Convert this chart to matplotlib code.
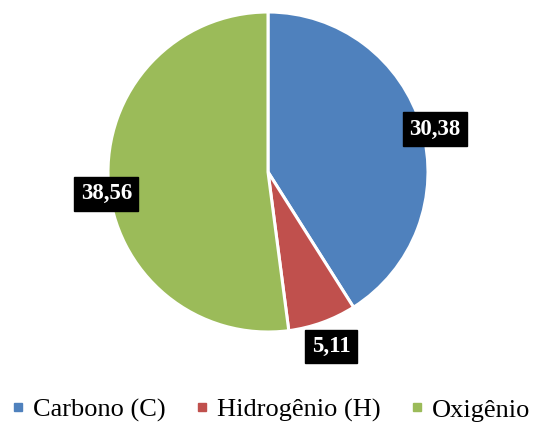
import matplotlib
matplotlib.use("Agg")
import matplotlib.pyplot as plt
from matplotlib.lines import Line2D
import numpy as np

labels = ["Carbono (C)", "Hidrogênio (H)", "Oxigênio"]
values = [30.38, 5.11, 38.56]
value_text = ["30,38", "5,11", "38,56"]
colors = ["#4F81BD", "#C0504D", "#9BBB59"]
# radial distance and angular nudge (deg) for each value box
label_radius = [1.077, 1.16, 1.02]
label_nudge = [-1.8, 0.0, 4.0]

plt.rcParams["font.family"] = ["Liberation Serif", "DejaVu Serif"]

W, H = 533, 425
fig = plt.figure(figsize=(W / 100, H / 100), dpi=100)
cx, cy, r = 268, 172, 160
ax = fig.add_axes([(cx - r) / W, (H - cy - r) / H, 2 * r / W, 2 * r / H])

wedges, _ = ax.pie(values, colors=colors, startangle=90, counterclock=False,
                   radius=1.0,
                   wedgeprops=dict(edgecolor="white", linewidth=2.2))
ax.set_xlim(-1, 1)
ax.set_ylim(-1, 1)
ax.set_aspect("equal")
ax.axis("off")

for w, txt, rr, nd in zip(wedges, value_text, label_radius, label_nudge):
    ang = np.deg2rad((w.theta1 + w.theta2) / 2 + nd)
    ax.text(rr * np.cos(ang), rr * np.sin(ang), txt, ha="center", va="center",
            fontsize=16.5, fontweight="bold", color="white",
            bbox=dict(boxstyle="square,pad=0.28", fc="black", ec="black"),
            clip_on=False, zorder=5)

handles = [Line2D([0], [0], marker="s", linestyle="", markersize=6,
                  markerfacecolor=c, markeredgecolor=c) for c in colors]
fig.legend(handles, labels, loc="center",
           bbox_to_anchor=(0.5 + 5 / W, (H - 410) / H),
           ncol=3, frameon=False, fontsize=19, handletextpad=0.35,
           columnspacing=1.2, handlelength=0.4)

fig.savefig("out.png", dpi=100)
